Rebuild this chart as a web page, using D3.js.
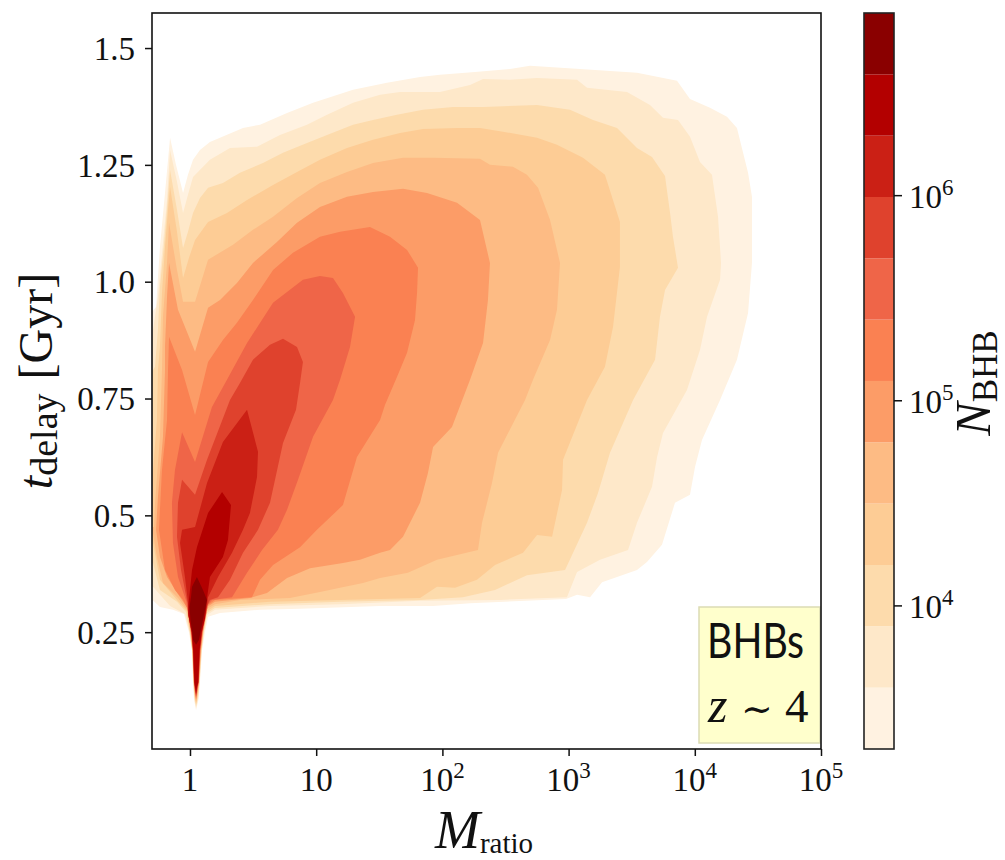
<!DOCTYPE html>
<html>
<head>
<meta charset="utf-8">
<script src="https://cdn.jsdelivr.net/npm/d3@7"></script>
<style>
  body { margin: 0; background: #fff; }
  svg { display: block; }
  text { font-family: "Liberation Serif", serif; fill: #111; }
</style>
</head>
<body>
<div id="chart"></div>
<script>
// contour lower bounds of N_BHB, one band between each pair
const levels = [1995, 3972, 7907, 15740, 31330, 62370, 124200, 247200, 492000, 979500, 1950000, 3880000, 7727000];
const bandColors = ["#fff2e1", "#fee8c9", "#fddbac", "#fdcc95", "#fdbb84", "#fc9c67", "#fa8152", "#ef6548", "#df422d", "#cb2015", "#b30000", "#8a0000"];

const xTicks = [1, 10, 100, 1000, 10000, 100000];
const xTickBase = ["1", "10", "10", "10", "10", "10"];
const xTickExp = ["", "", "2", "3", "4", "5"];
const yTicks = [0.25, 0.5, 0.75, 1.0, 1.25, 1.5];
const yTickLabels = ["0.25", "0.5", "0.75", "1.0", "1.25", "1.5"];
const cbarTicks = [10000, 100000, 1000000];
const cbarTickExp = ["4", "5", "6"];

// contour outlines: [log10 Mratio, t_delay in Gyr]
const contour1 = [[-.301,.935],[-.269,.946],[-.238,1.074],[-.198,1.19],[-.158,1.308],[-.111,1.25],[-.055,1.19],[-.016,1.229],[.024,1.261],[.079,1.282],[.158,1.299],[.42,1.329],[.555,1.336],[.769,1.361],[.975,1.383],[1.292,1.411],[1.561,1.426],[1.823,1.438],[1.981,1.443],[2.258,1.449],[2.536,1.455],[2.694,1.462],[3.09,1.455],[3.542,1.447],[3.859,1.43],[3.962,1.391],[4.12,1.372],[4.255,1.353],[4.334,1.329],[4.422,1.233],[4.453,1.182],[4.453,1.04],[4.422,.933],[4.334,.833],[4.2,.747],[4.057,.661],[4.002,.604],[3.962,.544],[3.843,.527],[3.74,.437],[3.621,.4],[3.542,.383],[3.265,.357],[3.17,.325],[3.067,.33],[2.979,.321],[2.219,.312],[1.926,.306],[1.506,.306],[.872,.3],[.555,.298],[.238,.291],[.143,.283],[.119,.25],[.095,.21],[.079,.143],[.067,.105],[.048,.083],[.032,.105],[.024,.143],[.016,.21],[-.008,.25],[-.048,.289],[-.135,.298],[-.238,.304],[-.293,.318],[-.301,.318]];
const contour2 = [[-.301,.882],[-.254,.967],[-.214,1.083],[-.182,1.175],[-.158,1.282],[-.103,1.214],[-.055,1.147],[-.016,1.186],[.024,1.224],[.158,1.261],[.317,1.286],[.531,1.289],[.713,1.314],[.927,1.336],[1.086,1.357],[1.292,1.383],[1.506,1.4],[1.664,1.406],[1.981,1.406],[2.219,1.421],[2.322,1.434],[2.536,1.432],[2.75,1.436],[3.067,1.432],[3.146,1.415],[3.463,1.406],[3.645,1.378],[3.748,1.351],[3.867,1.346],[3.962,1.31],[4.041,1.256],[4.136,1.229],[4.184,1.139],[4.208,1.04],[4.2,1.004],[4.097,.925],[4.041,.854],[3.938,.768],[3.748,.676],[3.701,.625],[3.661,.561],[3.542,.484],[3.471,.426],[3.249,.405],[3.067,.379],[2.987,.325],[2.456,.319],[1.823,.317],[1.189,.31],[.634,.306],[.198,.298],[.135,.287],[.111,.25],[.093,.21],[.077,.143],[.066,.108],[.048,.088],[.034,.108],[.026,.143],[.017,.21],[-.004,.25],[-.04,.289],[-.158,.306],[-.293,.347],[-.301,.347]];
const contour3 = [[-.301,.807],[-.277,.818],[-.254,.897],[-.238,.989],[-.206,1.079],[-.182,1.154],[-.158,1.239],[-.103,1.154],[-.055,1.072],[-.016,1.107],[.024,1.147],[.079,1.179],[.143,1.201],[.261,1.211],[.396,1.233],[.578,1.254],[.737,1.276],[.927,1.297],[1.086,1.314],[1.292,1.336],[1.45,1.346],[1.64,1.357],[1.846,1.368],[2.084,1.374],[2.322,1.374],[2.75,1.378],[3.011,1.368],[3.194,1.346],[3.384,1.329],[3.542,1.286],[3.661,1.267],[3.764,1.226],[3.804,1.147],[3.827,1.096],[3.867,1.03],[3.764,.982],[3.724,.925],[3.685,.833],[3.511,.747],[3.328,.634],[3.233,.548],[3.146,.484],[2.972,.383],[2.67,.372],[2.417,.34],[2.163,.325],[1.823,.319],[1.189,.315],[.634,.31],[.198,.302],[.135,.291],[.108,.25],[.091,.21],[.075,.143],[.064,.112],[.048,.092],[.035,.112],[.028,.143],[.018,.21],[-.001,.25],[-.032,.293],[-.103,.315],[-.238,.34],[-.293,.398],[-.301,.398]];
const contour4 = [[-.301,.586],[-.293,.597],[-.262,.704],[-.254,.811],[-.238,.86],[-.222,.976],[-.198,1.074],[-.174,1.154],[-.158,1.203],[-.103,1.107],[-.055,1.008],[-.008,1.051],[.04,1.089],[.143,1.128],[.293,1.147],[.452,1.175],[.658,1.207],[.848,1.235],[1.03,1.261],[1.244,1.286],[1.45,1.304],[1.664,1.318],[1.846,1.327],[2.116,1.329],[2.298,1.329],[2.48,1.321],[2.75,1.308],[2.908,1.293],[3.114,1.265],[3.288,1.229],[3.407,1.128],[3.407,1.032],[3.352,.903],[3.288,.818],[3.146,.747],[2.956,.619],[2.948,.554],[2.869,.454],[2.75,.458],[2.639,.42],[2.417,.394],[2.274,.362],[2.1,.345],[1.957,.347],[1.823,.323],[1.189,.319],[.634,.315],[.198,.306],[.135,.295],[.106,.25],[.089,.21],[.073,.143],[.062,.116],[.048,.096],[.036,.116],[.029,.143],[.019,.21],[.001,.25],[-.027,.296],[-.103,.319],[-.238,.362],[-.293,.441],[-.301,.447]];
const contour5 = [[-.301,.475],[-.285,.475],[-.277,.527],[-.238,.668],[-.222,.811],[-.214,.925],[-.182,1.04],[-.166,1.126],[-.103,1.025],[-.055,.957],[.04,.957],[.143,1.047],[.341,1.079],[.499,1.111],[.658,1.139],[.848,1.179],[1.03,1.211],[1.244,1.235],[1.45,1.254],[1.688,1.265],[1.926,1.265],[2.298,1.263],[2.377,1.25],[2.559,1.246],[2.67,1.229],[2.758,1.201],[2.853,1.132],[2.932,1.04],[2.908,.94],[2.853,.875],[2.718,.79],[2.655,.747],[2.441,.634],[2.393,.569],[2.314,.484],[2.282,.426],[1.957,.405],[1.727,.377],[1.506,.366],[1.371,.355],[1.189,.345],[1.03,.336],[.792,.323],[.396,.319],[.198,.31],[.135,.3],[.104,.25],[.087,.21],[.071,.143],[.061,.12],[.048,.1],[.037,.12],[.03,.143],[.02,.21],[.004,.25],[-.024,.298],[-.095,.323],[-.214,.355],[-.262,.411]];
const contour6 = [[-.269,.469],[-.254,.539],[-.214,.668],[-.198,.811],[-.198,.86],[-.182,.967],[-.166,1.04],[-.095,.94],[.04,.85],[.143,.944],[.238,.961],[.372,.997],[.499,1.04],[.689,1.085],[.848,1.126],[1.03,1.16],[1.244,1.182],[1.45,1.192],[1.688,1.199],[1.878,1.19],[2.116,1.169],[2.298,1.132],[2.377,1.04],[2.361,.961],[2.322,.869],[2.219,.79],[2.076,.689],[1.926,.646],[1.886,.591],[1.823,.527],[1.688,.454],[1.585,.426],[1.506,.42],[1.347,.405],[1.212,.398],[.951,.387],[.769,.366],[.61,.334],[.475,.323],[.198,.315],[.135,.304],[.102,.25],[.085,.21],[.07,.143],[.06,.123],[.048,.104],[.038,.123],[.031,.143],[.021,.21],[.006,.25],[-.022,.302],[-.079,.325],[-.182,.368],[-.238,.411]];
const contour7 = [[-.246,.469],[-.222,.597],[-.182,.704],[-.174,.811],[-.166,.882],[-.063,.811],[.04,.715],[.143,.828],[.261,.875],[.372,.912],[.499,.961],[.658,1.025],[.816,1.062],[1.03,1.096],[1.189,1.107],[1.426,1.117],[1.585,1.096],[1.72,1.068],[1.807,1.03],[1.799,.976],[1.783,.918],[1.72,.848],[1.64,.796],[1.545,.736],[1.506,.704],[1.323,.625],[1.212,.522],[1.006,.469],[.872,.432],[.658,.394],[.555,.362],[.491,.325],[.198,.319],[.143,.308],[.1,.25],[.083,.21],[.069,.143],[.059,.126],[.048,.107],[.038,.126],[.032,.143],[.022,.21],[.008,.25],[-.02,.3],[-.055,.319],[-.119,.34],[-.198,.383]];
const contour8 = [[-.063,.678],[.04,.614],[.174,.732],[.293,.79],[.452,.869],[.658,.955],[.895,1.004],[1.03,1.012],[1.133,1.008],[1.212,.976],[1.308,.925],[1.268,.86],[1.189,.79],[1.133,.747],[.975,.668],[.856,.576],[.769,.512],[.697,.469],[.571,.426],[.452,.377],[.333,.325],[.174,.319],[.143,.31],[.098,.25],[.081,.21],[.068,.143],[.058,.128],[.048,.11],[.039,.128],[.032,.143],[.023,.21],[.01,.25],[-.018,.298],[-.03,.316],[-.095,.368],[-.135,.441],[-.143,.527],[-.119,.597]];
const contour9 = [[-.063,.576],[.04,.544],[.135,.619],[.317,.747],[.396,.783],[.499,.833],[.634,.865],[.737,.878],[.848,.86],[.895,.828],[.872,.783],[.84,.726],[.737,.655],[.634,.527],[.539,.469],[.42,.42],[.317,.362],[.222,.325],[.158,.319],[.135,.306],[.096,.25],[.079,.21],[.067,.143],[.058,.13],[.048,.113],[.039,.13],[.033,.143],[.024,.21],[.012,.25],[-.016,.296],[-.02,.312],[-.071,.383],[-.103,.454],[-.095,.527]];
const contour10 = [[-.063,.469],[.04,.475],[.135,.569],[.261,.657],[.452,.726],[.539,.636],[.531,.582],[.475,.505],[.42,.469],[.333,.42],[.222,.368],[.143,.325],[.135,.306],[.094,.25],[.077,.21],[.066,.143],[.057,.132],[.048,.116],[.04,.132],[.034,.143],[.025,.21],[.013,.25],[-.015,.29],[-.014,.31],[-.04,.368],[-.079,.441]];
const contour11 = [[.254,.55],[.325,.522],[.301,.447],[.261,.411],[.158,.368],[.135,.323],[.119,.28],[.092,.25],[.075,.21],[.065,.143],[.056,.134],[.048,.119],[.04,.134],[.035,.143],[.026,.21],[.014,.25],[-.012,.285],[-.012,.31],[0,.34],[.016,.383],[.055,.432],[.143,.505]];
const contour12 = [[.055,.368],[.103,.34],[.135,.319],[.119,.298],[.103,.276],[.083,.25],[.071,.233],[.048,.223],[.024,.233],[.018,.25],[.004,.276],[-.004,.304],[.008,.325],[.016,.347]];
const contours = [contour1, contour2, contour3, contour4, contour5, contour6, contour7, contour8, contour9, contour10, contour11, contour12];

const width = 1005;
const height = 860;
const plot = {left: 152, right: 821, top: 13, bottom: 749};
const cbar = {left: 864, right: 894, top: 13, bottom: 749};

const xScale = d3.scaleLog().domain([0.5, 100000]).range([plot.left, plot.right]);
const yScale = d3.scaleLinear().domain([0, 1.575]).range([plot.bottom, plot.top]);
const cScale = d3.scaleLog().domain([levels[0], levels[levels.length - 1]]).range([cbar.bottom, cbar.top]);
const color = d3.scaleOrdinal().domain(levels.slice(0, -1)).range(bandColors);

const svg = d3.select("#chart").append("svg")
    .attr("width", width)
    .attr("height", height);

const line = d3.line()
    .x(d => xScale(Math.pow(10, d[0])))
    .y(d => yScale(d[1]));

svg.append("g").selectAll("path")
    .data(contours)
    .enter()
    .append("path")
    .attr("d", d => line(d) + "Z")
    .attr("fill", (d, i) => color(levels[i]));

// annotation box
svg.append("rect")
    .attr("x", 699).attr("y", 607)
    .attr("width", 121).attr("height", 136)
    .attr("fill", "#ffffcc")
    .attr("stroke", "#dcdcb4")
    .attr("stroke-width", 1.5);
svg.append("text")
    .attr("x", 707).attr("y", 658)
    .attr("textLength", 97).attr("lengthAdjust", "spacingAndGlyphs")
    .style("font-family", "Lato, sans-serif")
    .style("font-size", "48px")
    .text("BHBs");
const zText = svg.append("text")
    .attr("x", 708).attr("y", 722)
    .style("font-size", "50px");
zText.append("tspan").style("font-style", "italic").text("z");
zText.append("tspan").attr("x", 741).style("font-family", "DejaVu Serif").style("font-size", "38px").text("∼");
zText.append("tspan").attr("x", 785).style("font-size", "47px").text("4");

// frame
svg.append("rect")
    .attr("x", plot.left).attr("y", plot.top)
    .attr("width", plot.right - plot.left).attr("height", plot.bottom - plot.top)
    .attr("fill", "none")
    .attr("stroke", "#111")
    .attr("stroke-width", 1.6);

// axes, labels are written by hand below because of the superscripts
const xAxis = svg.append("g")
    .attr("transform", `translate(0, ${plot.bottom})`)
    .call(d3.axisBottom(xScale).tickValues(xTicks).tickFormat("").tickSize(7).tickSizeOuter(0));
const yAxis = svg.append("g")
    .attr("transform", `translate(${plot.left}, 0)`)
    .call(d3.axisLeft(yScale).tickValues(yTicks).tickFormat((d, i) => yTickLabels[i]).tickSize(7).tickSizeOuter(0));
[xAxis, yAxis].forEach(a => {
    a.select(".domain").remove();
    a.selectAll("line").attr("stroke", "#111").attr("stroke-width", 1.5);
});
yAxis.selectAll("text")
    .attr("x", -17)
    .attr("dy", "0.34em")
    .style("font-size", "33px")
    .style("font-family", "Liberation Serif");

const xLabels = svg.append("g").selectAll("text")
    .data(xTicks)
    .enter()
    .append("text")
    .attr("x", d => xScale(d))
    .attr("y", 791)
    .attr("text-anchor", "middle")
    .style("font-size", "33px");
xLabels.append("tspan").text((d, i) => xTickBase[i]);
xLabels.append("tspan")
    .attr("dy", -13)
    .style("font-size", "23px")
    .text((d, i) => xTickExp[i]);

const xTitle = svg.append("text")
    .attr("x", 484).attr("y", 848)
    .attr("text-anchor", "middle")
    .style("font-size", "54px");
xTitle.append("tspan").style("font-style", "italic").text("M");
xTitle.append("tspan").attr("dy", 5).style("font-size", "29px").text("ratio");

const yTitle = svg.append("text")
    .attr("transform", "translate(52, 381) rotate(-90)")
    .attr("text-anchor", "middle")
    .style("font-size", "48px");
yTitle.append("tspan").style("font-style", "italic").text("t");
yTitle.append("tspan").attr("dy", 5).style("font-size", "38px").text("delay");
yTitle.append("tspan").attr("dy", -5).attr("dx", 14).text("[Gyr]");

// colour bar
svg.append("g").selectAll("rect")
    .data(levels.slice(0, -1))
    .enter()
    .append("rect")
    .attr("x", cbar.left)
    .attr("width", cbar.right - cbar.left)
    .attr("y", (d, i) => cScale(levels[i + 1]))
    .attr("height", (d, i) => cScale(d) - cScale(levels[i + 1]))
    .attr("fill", d => color(d));
svg.append("rect")
    .attr("x", cbar.left).attr("y", cbar.top)
    .attr("width", cbar.right - cbar.left).attr("height", cbar.bottom - cbar.top)
    .attr("fill", "none")
    .attr("stroke", "#222")
    .attr("stroke-width", 1.6);

const cAxis = svg.append("g")
    .attr("transform", `translate(${cbar.right}, 0)`)
    .call(d3.axisRight(cScale).tickValues(cbarTicks).tickFormat("").tickSize(8).tickSizeOuter(0));
cAxis.select(".domain").remove();
cAxis.selectAll("line").attr("stroke", "#111").attr("stroke-width", 1.5);

const cLabels = svg.append("g").selectAll("text")
    .data(cbarTicks)
    .enter()
    .append("text")
    .attr("x", 909)
    .attr("y", d => cScale(d) + 13)
    .style("font-size", "33px");
cLabels.append("tspan").text("10");
cLabels.append("tspan")
    .attr("dy", -13)
    .style("font-size", "23px")
    .text((d, i) => cbarTickExp[i]);

const cTitle = svg.append("text")
    .attr("transform", "translate(990, 383) rotate(-90)")
    .attr("text-anchor", "middle")
    .style("font-size", "50px");
cTitle.append("tspan").style("font-style", "italic").text("N");
cTitle.append("tspan").attr("dy", 7).style("font-size", "35px").text("BHB");
</script>
</body>
</html>
